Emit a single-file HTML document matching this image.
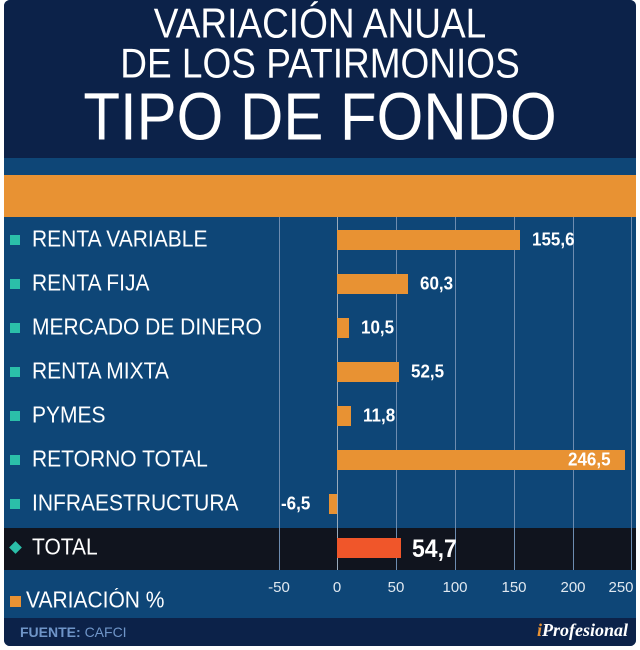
<!DOCTYPE html>
<html><head><meta charset="utf-8"><style>
body{margin:0;background:#fff;width:640px;height:650px;overflow:hidden;font-family:"Liberation Sans",sans-serif}
.f{position:absolute;left:4px;top:0;width:632px;height:646px;background:#0e4677;border-radius:6px;overflow:hidden}
.h{position:absolute;left:0;top:0;width:632px;height:158px;background:#0c2249;color:#fff;text-align:center}
.t{position:absolute;width:100%;left:0;transform:scaleY(1.12)}
.g{position:absolute;top:217px;width:1px;height:353px;background:#6d8cb0}
.lbl{position:absolute;left:28px;color:#fff;font-size:21px;line-height:20px;transform:scaleY(1.08);transform-origin:left center}
.sq{position:absolute;left:6px;width:10px;height:10px;background:#2bbfa9}
.bar{position:absolute;height:20px;background:#e89233}
.v{position:absolute;color:#fff;font-weight:bold;font-size:17px;line-height:20px;transform:scaleY(1.1)}
.ax{position:absolute;top:579px;color:#e0e8f0;font-size:15px;width:40px;text-align:center}
</style></head><body><div class="f">
<div class="h">
<div class="t" style="top:6px;font-size:37px;line-height:36px">VARIACIÓN ANUAL</div>
<div class="t" style="top:46px;font-size:37px;line-height:36px">DE LOS PATIRMONIOS</div>
<div class="t" style="top:86px;font-size:60px;line-height:62px">TIPO DE FONDO</div>
</div>
<div style="position:absolute;left:0;top:175px;width:632px;height:42px;background:#e89233"></div>
<div style="position:absolute;left:0;top:528px;width:632px;height:42px;background:#10141e"></div>
<div class="g" style="left:275px"></div><div class="g" style="left:333px;background:#9ab"></div><div class="g" style="left:392px"></div><div class="g" style="left:451px"></div><div class="g" style="left:510px"></div><div class="g" style="left:569px"></div><div class="g" style="left:627px"></div>

<div class="sq" style="top:235px"></div><div class="lbl" style="top:230px">RENTA VARIABLE</div><div class="bar" style="left:333px;top:230px;width:183px"></div><div class="v" style="left:528px;top:230px">155,6</div>
<div class="sq" style="top:279px"></div><div class="lbl" style="top:274px">RENTA FIJA</div><div class="bar" style="left:333px;top:274px;width:71px"></div><div class="v" style="left:416px;top:274px">60,3</div>
<div class="sq" style="top:323px"></div><div class="lbl" style="top:318px">MERCADO DE DINERO</div><div class="bar" style="left:333px;top:318px;width:12px"></div><div class="v" style="left:357px;top:318px">10,5</div>
<div class="sq" style="top:367px"></div><div class="lbl" style="top:362px">RENTA MIXTA</div><div class="bar" style="left:333px;top:362px;width:62px"></div><div class="v" style="left:407px;top:362px">52,5</div>
<div class="sq" style="top:411px"></div><div class="lbl" style="top:406px">PYMES</div><div class="bar" style="left:333px;top:406px;width:14px"></div><div class="v" style="left:359px;top:406px">11,8</div>
<div class="sq" style="top:455px"></div><div class="lbl" style="top:450px">RETORNO TOTAL</div><div class="bar" style="left:333px;top:450px;width:288px"></div><div class="v" style="left:564px;top:450px">246,5</div>
<div class="sq" style="top:499px"></div><div class="lbl" style="top:494px">INFRAESTRUCTURA</div><div class="bar" style="left:325px;top:494px;width:8px"></div><div class="v" style="left:277px;top:494px">-6,5</div>
<div style="position:absolute;left:7px;top:543px;width:9px;height:9px;background:#2bbfa9;transform:rotate(45deg)"></div><div class="lbl" style="top:538px">TOTAL</div><div class="bar" style="left:333px;top:538px;width:64px;background:#f0562a"></div><div class="v" style="left:408px;top:536px;font-size:23px;line-height:24px">54,7</div>

<div class="ax" style="left:255px">-50</div><div class="ax" style="left:313px">0</div><div class="ax" style="left:372px">50</div><div class="ax" style="left:431px">100</div><div class="ax" style="left:490px">150</div><div class="ax" style="left:549px">200</div><div class="ax" style="left:597px">250</div>
<div style="position:absolute;left:6px;top:596px;width:11px;height:11px;background:#e89233"></div>
<div class="lbl" style="left:22px;top:591px">VARIACIÓN %</div>
<div style="position:absolute;left:0;top:618px;width:632px;height:28px;background:#0c2249"></div>
<div style="position:absolute;left:16px;top:624px;color:#6f95c8;font-size:14px;font-weight:bold">FUENTE: <span style="font-weight:normal">CAFCI</span></div>
<div style="position:absolute;right:8px;top:620px;color:#fff;font-family:'Liberation Serif',serif;font-style:italic;font-weight:bold;font-size:18px"><span style="color:#e89233">i</span>Profesional</div>
</div></body></html>
